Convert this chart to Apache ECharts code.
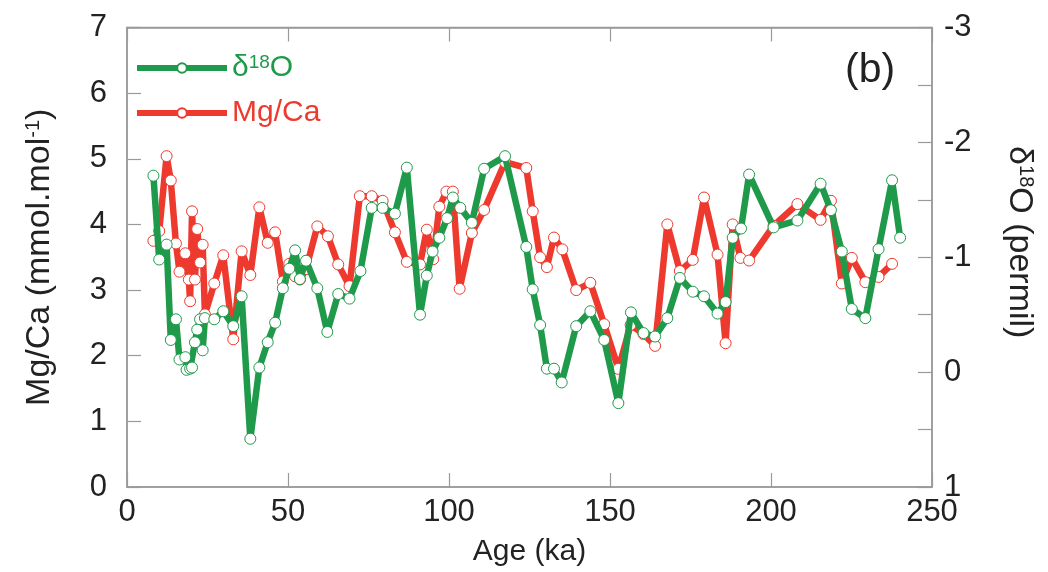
<!DOCTYPE html>
<html>
<head>
<meta charset="utf-8">
<script src="https://cdn.jsdelivr.net/npm/echarts@6/dist/echarts.min.js"></script>
<style>
html,body{margin:0;padding:0;background:#fff;}
#c{width:1048px;height:572px;}
</style>
</head>
<body>
<div id="c"></div>
<script>
// Age (ka) and Mg/Ca (mmol/mol)
const mgAge = [8.2,10.0,12.3,13.6,15.2,16.3,18.1,19.2,19.6,20.2,21.1,21.8,22.7,23.5,24.2,27.1,29.9,33.0,35.6,38.3,41.1,43.7,46.0,48.4,50.4,52.2,53.7,55.6,59.1,62.4,65.6,69.1,72.3,76.0,79.4,83.2,86.9,91.0,93.1,95.1,97.0,99.2,101.2,103.3,107.1,110.9,117.4,124.0,126.0,128.3,130.4,132.6,135.2,139.5,143.9,148.2,152.6,156.4,160.4,164.0,167.8,171.7,175.7,179.2,183.4,185.9,188.1,190.5,193.2,200.8,208.2,215.4,218.6,222.0,225.1,229.3,233.4,237.6];
const mgVal = [3.75,3.90,5.04,4.67,3.71,3.28,3.56,3.16,2.83,4.20,3.16,3.93,3.42,3.69,2.63,3.10,3.53,2.25,3.59,3.23,4.26,3.72,3.88,3.13,3.40,3.21,3.16,3.32,3.97,3.82,3.39,3.06,4.43,4.43,4.36,3.88,3.43,3.39,3.92,3.47,4.27,4.50,4.50,3.02,3.87,4.22,4.95,4.86,4.20,3.50,3.35,3.80,3.62,3.00,3.11,2.48,1.80,2.47,2.33,2.15,4.00,3.29,3.46,4.41,3.54,2.19,4.00,3.49,3.45,3.98,4.31,4.07,4.36,3.10,3.49,3.12,3.20,3.40];
// Age (ka) and d18O (permil)
const oAge = [8.2,10.0,12.3,13.6,15.2,16.3,18.1,18.5,19.6,20.2,21.1,21.8,22.7,23.5,24.2,27.1,29.9,33.0,35.6,38.3,41.1,43.7,46.0,48.4,50.4,52.2,53.7,55.6,59.1,62.2,65.6,69.1,72.5,76.0,79.4,83.2,86.9,91.0,93.1,94.9,97.0,99.4,101.2,103.5,107.1,110.9,117.4,124.0,126.0,128.3,130.4,132.6,135.0,139.5,143.9,148.2,152.6,156.5,160.4,164.0,167.8,171.7,175.7,179.2,183.4,185.9,188.1,190.7,193.2,200.8,208.2,215.4,218.6,222.0,225.1,229.3,233.4,237.6,240.1];
const oVal = [-1.71,-0.98,-1.11,-0.28,-0.46,-0.11,-0.13,-0.02,-0.03,-0.04,-0.26,-0.37,-0.46,-0.19,-0.47,-0.46,-0.53,-0.40,-0.66,0.58,-0.04,-0.26,-0.43,-0.73,-0.90,-1.06,-0.81,-0.97,-0.73,-0.35,-0.68,-0.64,-0.88,-1.43,-1.43,-1.38,-1.78,-0.50,-0.84,-1.05,-1.17,-1.34,-1.52,-1.43,-1.30,-1.77,-1.88,-1.09,-0.72,-0.41,-0.03,-0.03,0.09,-0.40,-0.53,-0.28,0.27,-0.52,-0.34,-0.31,-0.47,-0.82,-0.70,-0.66,-0.51,-0.61,-1.17,-1.25,-1.72,-1.26,-1.32,-1.64,-1.41,-1.05,-0.55,-0.47,-1.07,-1.67,-1.17];

const GREEN = '#1f9a4b';
const RED = '#ee3a2e';
const AX = '#9a9a9a';
const TXT = '#222222';
const FONT = '"Liberation Sans", Arial, sans-serif';

const chart = echarts.init(document.getElementById('c'), null, {renderer: 'canvas'});
const tickStyle = {inside: true, length: 14, lineStyle: {color: AX, width: 1.2}};

chart.setOption({
  animation: false,
  backgroundColor: '#fff',
  textStyle: {fontFamily: FONT},
  grid: {left: 127, right: 116, top: 27.5, bottom: 84.5, show: true, borderColor: AX, borderWidth: 1.5, backgroundColor: 'transparent'},
  legend: {
    orient: 'vertical', left: 129, top: 48, itemWidth: 90, itemHeight: 12, itemGap: 15,
    data: ['δ18O', 'Mg/Ca'],
    lineStyle: {width: 6},
    formatter: function (n) {
      return n === 'δ18O' ? '{g|δ}{gs|18}{g|O}' : '{r|Mg/Ca}';
    },
    textStyle: {
      fontFamily: FONT, fontSize: 30,
      rich: {
        g: {color: GREEN, fontSize: 30, fontFamily: FONT},
        gs: {color: GREEN, fontSize: 19, fontFamily: FONT, verticalAlign: 'top'},
        r: {color: RED, fontSize: 30, fontFamily: FONT}
      }
    }
  },
  xAxis: [{
    type: 'value', min: 0, max: 250, interval: 50, position: 'bottom',
    axisLine: {onZero: false, lineStyle: {color: AX, width: 1.5}}, axisTick: tickStyle, splitLine: {show: false},
    axisLabel: {fontSize: 31, color: TXT, margin: 10, fontFamily: FONT},
    name: 'Age (ka)', nameLocation: 'middle', nameGap: 50,
    nameTextStyle: {fontSize: 30, color: TXT, fontFamily: FONT}
  }, {
    type: 'value', min: 0, max: 250, interval: 50, position: 'top',
    axisLine: {onZero: false, lineStyle: {color: AX, width: 1.5}}, axisTick: tickStyle, splitLine: {show: false},
    axisLabel: {show: false}
  }],
  yAxis: [{
    type: 'value', min: 0, max: 7, interval: 1, position: 'left',
    axisLine: {show: true, onZero: false, lineStyle: {color: AX, width: 1.5}}, axisTick: tickStyle, splitLine: {show: false},
    axisLabel: {fontSize: 31, color: TXT, margin: 20, fontFamily: FONT},
    name: '{a|Mg/Ca (mmol.mol}{s|-1}{a|)}', nameLocation: 'middle', nameGap: 70, nameRotate: 90,
    nameTextStyle: {
      color: TXT, fontSize: 34, fontFamily: FONT,
      rich: {
        a: {fontSize: 34, color: TXT, fontFamily: FONT},
        s: {fontSize: 20, color: TXT, fontFamily: FONT, verticalAlign: 'top'}
      }
    }
  }, {
    type: 'value', min: -3, max: 1, interval: 0.5, inverse: true, position: 'right',
    axisLine: {show: true, onZero: false, lineStyle: {color: AX, width: 1.5}}, axisTick: tickStyle, splitLine: {show: false},
    axisLabel: {
      fontSize: 31, color: TXT, margin: 12, fontFamily: FONT,
      formatter: function (v) { return Math.abs(v - Math.round(v)) < 1e-6 ? String(Math.round(v)) : ''; }
    },
    name: '{a|δ}{s|18}{a|O (permil)}', nameLocation: 'middle', nameGap: 70, nameRotate: -90,
    nameTextStyle: {
      color: TXT, fontSize: 34, fontFamily: FONT, padding: [0, 30, 0, 0],
      rich: {
        a: {fontSize: 34, color: TXT, fontFamily: FONT},
        s: {fontSize: 20, color: TXT, fontFamily: FONT, verticalAlign: 'top'}
      }
    }
  }],
  graphic: [{
    type: 'text', left: 845, top: 50,
    style: {text: '(b)', fontSize: 41, fill: TXT, fontFamily: FONT}
  }],
  series: [{
    name: 'Mg/Ca', type: 'line', xAxisIndex: 0, yAxisIndex: 0, z: 2,
    data: mgAge.map((a, i) => [a, mgVal[i]]),
    lineStyle: {color: RED, width: 6.5}, itemStyle: {color: '#fff', borderColor: RED, borderWidth: 1},
    symbol: 'circle', symbolSize: 11, showAllSymbol: true
  }, {
    name: 'δ18O', type: 'line', xAxisIndex: 0, yAxisIndex: 1, z: 3,
    data: oAge.map((a, i) => [a, oVal[i]]),
    lineStyle: {color: GREEN, width: 6.5}, itemStyle: {color: '#fff', borderColor: GREEN, borderWidth: 1},
    symbol: 'circle', symbolSize: 11, showAllSymbol: true
  }]
});
</script>
</body>
</html>
